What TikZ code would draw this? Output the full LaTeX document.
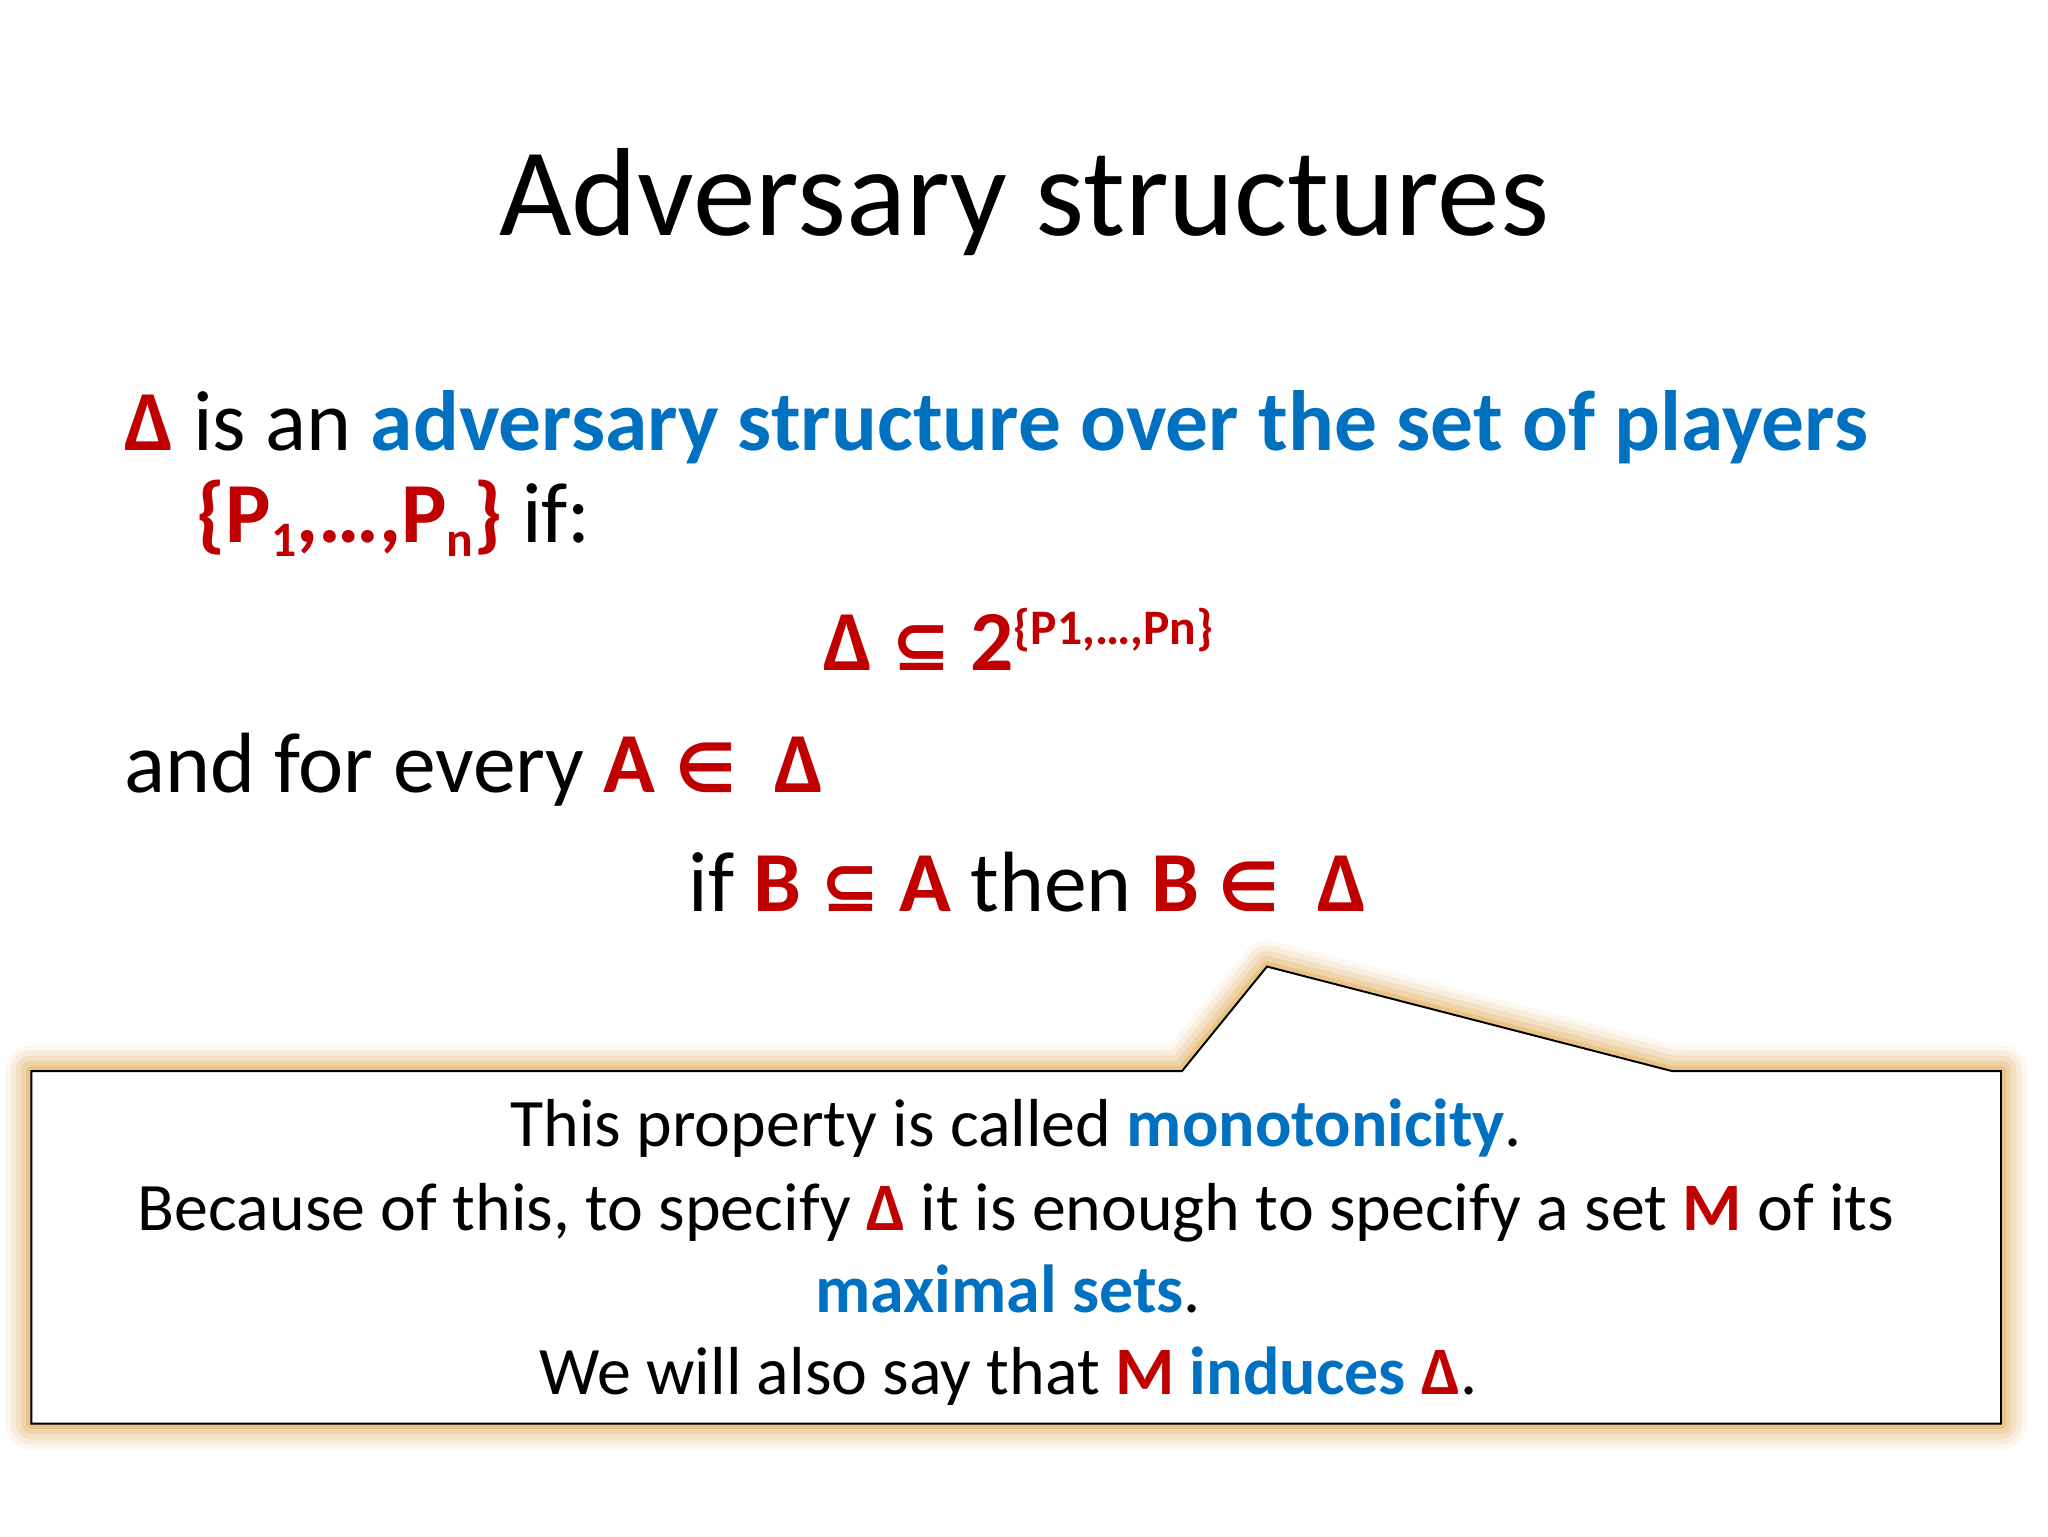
\documentclass[tikz,border=0pt]{standalone}
\usepackage{fontspec}
\setmainfont{Carlito}
\newfontfamily\symf{DejaVu Sans}
\definecolor{rd}{HTML}{C00000}
\definecolor{bl}{HTML}{0070C0}
\definecolor{glow}{HTML}{E6B46A}
\newcommand{\R}[1]{\textcolor{rd}{\bfseries #1}}
\newcommand{\B}[1]{\textcolor{bl}{\bfseries #1}}
\newcommand{\sub}[1]{\raisebox{-0.35ex}{\fontsize{38}{38}\selectfont #1}}
\newcommand{\subsetq}{{\symf\fontsize{54}{54}\selectfont ⊆}}
\newcommand{\elem}{{\symf\fontsize{52}{52}\selectfont ∈}}
\begin{document}
\begin{tikzpicture}[x=1pt,y=-1pt,
  txt/.style={inner sep=0pt,anchor=base west},
  ctr/.style={inner sep=0pt,anchor=base}]
\useasboundingbox (0,0) rectangle (1568,1176);
\fill[white] (0,0) rectangle (1568,1176);
\node[ctr,font=\fontsize{96}{96}\selectfont] (title) at (784,180) {Adversary structures};
\begin{scope}[font=\fontsize{65.5}{66}\selectfont]
\node[txt] (l1) at (95,345) {\R{Δ} is an \B{adversary structure over the set of players}};
\node[txt] (l2) at (150,415) {\R{\{P\sub{1},…,P\sub{n}\}} if:};
\node[txt] (l3) at (630,513) {\R{Δ \subsetq\ 2\raisebox{0.3em}{\fontsize{38}{38}\selectfont\{P1,…,Pn\}}}};
\node[txt] (l4) at (95,607) {and for every \R{A \elem\ \ Δ}};
\node[txt] (l5) at (527,698) {if \R{B \subsetq\ A} then \R{B \elem\ \ Δ}};
\end{scope}
% callout glow
\foreach \w/\o in {40/0.1,32/0.14,24/0.2,16/0.3,8/0.5}{
  \draw[glow,line width=\w pt,opacity=\o,line join=round]
   (24,820) -- (905,820) -- (970,740) -- (1280,820) -- (1532,820) -- (1532,1090) -- (24,1090) -- cycle;}
\draw[fill=white,line width=1.5pt,line join=miter] (24,820) -- (905,820) -- (970,740) -- (1280,820) -- (1532,820) -- (1532,1090) -- (24,1090) -- cycle;
\begin{scope}[font=\fontsize{52}{52}\selectfont]
\node[ctr] (c1) at (778,878) {This property is called \B{monotonicity}.};
\node[ctr] (c2) at (778,942) {Because of this, to specify \R{Δ} it is enough to specify a set \R{M} of its};
\node[ctr] (c3) at (772,1005) {\B{maximal sets}.};
\node[ctr] (c4) at (772,1068) {We will also say that \R{M} \B{induces} \R{Δ}.};
\end{scope}
\end{tikzpicture}
\end{document}
